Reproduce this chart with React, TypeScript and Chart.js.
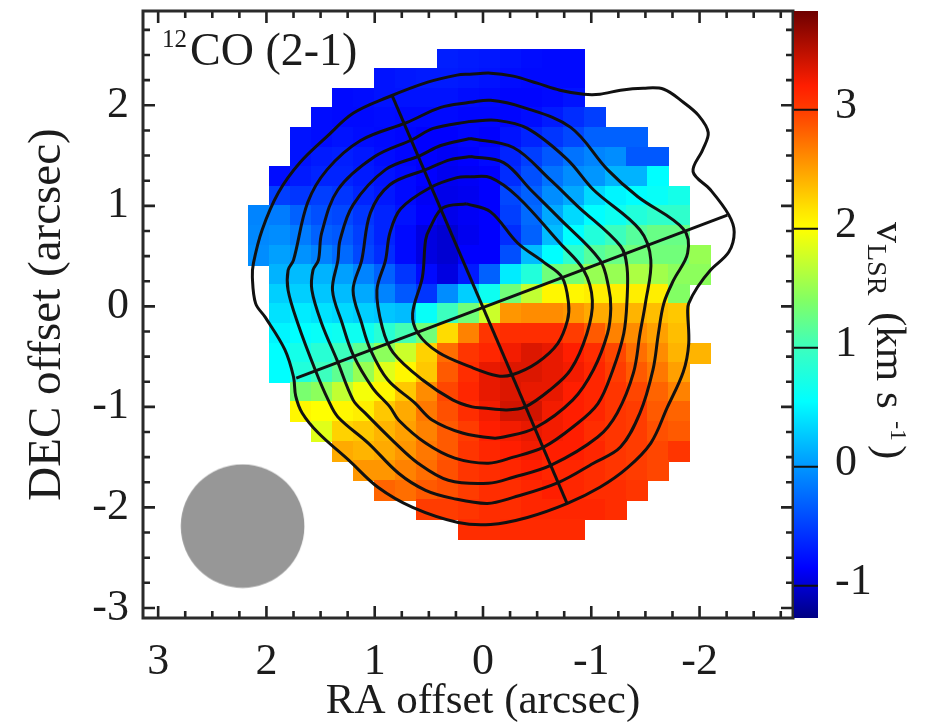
import React, { useEffect, useRef } from "react";
import { Chart, registerables } from "chart.js";

Chart.register(...registerables);

const FONT = '"Liberation Serif", serif';
const INK = "#1c1c1c";

const raCentres = [2.07, 1.875, 1.68, 1.487, 1.293, 1.099, 0.905, 0.711, 0.517, 0.323, 0.129, -0.065, -0.259, -0.453, -0.647, -0.841, -1.035, -1.229, -1.423, -1.617, -1.811, -2.005];
const decCentres = [2.46, 2.265, 2.07, 1.875, 1.68, 1.485, 1.29, 1.095, 0.9, 0.705, 0.51, 0.315, 0.12, -0.075, -0.27, -0.465, -0.66, -0.855, -1.05, -1.245, -1.44, -1.635, -1.83, -2.025, -2.22];
const rowStart = [9, 6, 4, 3, 2, 2, 1, 1, 0, 0, 0, 1, 1, 1, 1, 1, 1, 2, 2, 3, 4, 5, 6, 8, 10];

const velocityRows = [
  [-0.68, -0.7, -0.72, -0.75, -0.78, -0.8, -0.8],
  [-0.75, -0.72, -0.7, -0.7, -0.72, -0.75, -0.78, -0.8, -0.8, -0.8],
  [-0.8, -0.78, -0.75, -0.75, -0.75, -0.75, -0.78, -0.8, -0.82, -0.82, -0.8, -0.75],
  [-0.78, -0.8, -0.8, -0.78, -0.8, -0.8, -0.8, -0.82, -0.82, -0.82, -0.78, -0.7, -0.6, -0.5],
  [-0.75, -0.78, -0.75, -0.78, -0.8, -0.82, -0.85, -0.85, -0.82, -0.85, -0.75, -0.65, -0.55, -0.45, -0.3, -0.3, -0.3],
  [-0.75, -0.7, -0.68, -0.72, -0.78, -0.82, -0.85, -0.88, -0.85, -0.8, -0.65, -0.5, -0.35, -0.2, -0.1, -0.05, -0.35, -0.35],
  [-0.78, -0.7, -0.65, -0.65, -0.7, -0.75, -0.8, -0.85, -0.9, -0.88, -0.85, -0.6, -0.4, -0.2, -0.05, 0, 0.15, 0.15, 0.55],
  [-0.5, -0.55, -0.5, -0.55, -0.65, -0.72, -0.8, -0.88, -0.92, -0.9, -0.85, -0.45, -0.3, -0.05, 0.1, 0.35, 0.5, 0.55, 0.6, 0.7],
  [-0.1, -0.15, -0.3, -0.4, -0.45, -0.55, -0.65, -0.75, -0.85, -0.92, -0.88, -0.85, -0.5, -0.25, 0.1, 0.35, 0.55, 0.65, 0.8, 0.9, 0.9],
  [-0.08, -0.05, -0.15, -0.3, -0.35, -0.5, -0.65, -0.8, -0.95, -1.0, -0.9, -0.85, -0.6, -0.3, 0.2, 0.55, 0.8, 1.0, 1.15, 1.25, 1.25],
  [-0.05, 0.05, -0.02, -0.12, -0.25, -0.45, -0.6, -0.8, -0.95, -1.0, -0.85, -0.85, -0.4, 0.2, 0.55, 0.9, 1.15, 1.25, 1.3, 1.3, 1.3, 1.5],
  [0.15, 0.2, 0.15, 0.05, -0.1, -0.3, -0.55, -0.8, -0.95, -0.7, -0.3, 0.45, 0.8, 1.3, 1.35, 1.5, 1.5, 1.6, 1.55, 1.45, 1.45],
  [0.3, 0.3, 0.25, 0.2, 0.1, -0.1, -0.35, -0.55, -0.05, 0.3, 0.65, 1.3, 1.7, 2.05, 2.05, 2.1, 2.1, 2.1, 2.1, 1.4],
  [0.4, 0.45, 0.4, 0.35, 0.3, 0.25, 0.2, 0.6, 1.0, 1.3, 1.75, 2.55, 2.6, 2.6, 2.55, 2.45, 2.45, 2.4, 2.35, 2.3],
  [0.5, 0.55, 0.6, 0.65, 0.65, 0.85, 1.05, 1.3, 2.2, 2.65, 3.05, 3.1, 3.1, 3.1, 3.0, 2.85, 2.65, 2.6, 2.5, 2.35],
  [0.55, 0.7, 0.85, 1.0, 1.2, 1.45, 1.75, 2.25, 2.75, 3.05, 3.15, 3.25, 3.35, 3.3, 3.2, 3.1, 2.95, 2.75, 2.6, 2.4, 2.4],
  [0.55, 0.8, 1.0, 1.2, 1.5, 1.85, 2.05, 2.3, 2.85, 3.1, 3.3, 3.35, 3.35, 3.3, 3.25, 3.15, 3.0, 2.85, 2.7, 2.5],
  [1.35, 1.45, 1.7, 1.95, 2.05, 2.3, 2.6, 2.95, 3.15, 3.3, 3.35, 3.3, 3.3, 3.2, 3.15, 3.05, 2.95, 2.8, 2.65],
  [2.05, 2.0, 2.05, 2.1, 2.3, 2.45, 2.7, 2.9, 3.1, 3.25, 3.4, 3.4, 3.25, 3.2, 3.15, 3.05, 3.0, 2.85, 2.8],
  [1.85, 2.25, 2.3, 2.4, 2.5, 2.65, 2.85, 3.0, 3.2, 3.25, 3.3, 3.25, 3.2, 3.1, 3.05, 3.0, 2.9, 2.85],
  [2.45, 2.4, 2.45, 2.55, 2.7, 2.85, 3.05, 3.15, 3.2, 3.25, 3.2, 3.2, 3.15, 3.05, 3.0, 2.95, 3.05],
  [2.55, 2.55, 2.65, 2.75, 2.9, 3.05, 3.1, 3.15, 3.2, 3.15, 3.15, 3.1, 3.05, 3.0, 2.95],
  [2.8, 2.75, 2.85, 2.9, 3.0, 3.1, 3.1, 3.15, 3.2, 3.15, 3.1, 3.1, 3.05],
  [3.0, 3.0, 3.05, 3.1, 3.1, 3.15, 3.15, 3.15, 3.15, 3.1],
  [3.1, 3.1, 3.12, 3.12, 3.12, 3.12],
];

const contour1 = [[0.12, 2.31], [-0.07, 2.32], [-0.28, 2.29], [-0.5, 2.22], [-0.71, 2.15], [-0.93, 2.11], [-1.08, 2.11], [-1.27, 2.15], [-1.48, 2.17], [-1.67, 2.16], [-1.85, 2.03], [-1.99, 1.9], [-2.08, 1.73], [-2.03, 1.56], [-1.94, 1.34], [-2.1, 1.16], [-2.27, 0.91], [-2.32, 0.74], [-2.27, 0.54], [-2.1, 0.36], [-1.98, 0.19], [-1.9, 0.03], [-1.89, -0.04], [-1.9, -0.37], [-1.85, -0.65], [-1.7, -1.01], [-1.55, -1.36], [-1.33, -1.61], [-1.08, -1.8], [-0.78, -1.96], [-0.41, -2.1], [-0.07, -2.17], [0.23, -2.15], [0.65, -2.0], [0.97, -1.8], [1.24, -1.53], [1.52, -1.26], [1.67, -1.06], [1.73, -0.89], [1.75, -0.7], [1.83, -0.43], [2.01, -0.11], [2.1, 0.03], [2.13, 0.29], [2.12, 0.43], [2.04, 0.76], [1.89, 1.13], [1.69, 1.43], [1.44, 1.69], [1.2, 1.92], [0.88, 2.08], [0.51, 2.23], [0.24, 2.3]];
const contour2 = [[0.12, 2.03], [-0.07, 2.05], [-0.37, 1.98], [-0.81, 1.78], [-1.15, 1.36], [-1.43, 1.09], [-1.85, 0.77], [-1.89, 0.53], [-1.76, 0.26], [-1.67, 0.03], [-1.62, -0.27], [-1.57, -0.63], [-1.45, -1.06], [-1.27, -1.4], [-1.02, -1.56], [-0.7, -1.75], [-0.28, -1.9], [-0.04, -1.96], [0.28, -1.91], [0.53, -1.83], [0.78, -1.66], [1.06, -1.36], [1.34, -1.1], [1.43, -0.93], [1.55, -0.63], [1.71, -0.17], [1.8, 0.16], [1.8, 0.36], [1.75, 0.46], [1.62, 1.03], [1.44, 1.36], [1.13, 1.65], [0.7, 1.83], [0.39, 1.98]];
const contour3 = [[0.12, 1.84], [-0.13, 1.85], [-0.41, 1.77], [-0.78, 1.46], [-1.02, 1.16], [-1.45, 0.76], [-1.55, 0.46], [-1.5, 0.03], [-1.45, -0.27], [-1.39, -0.66], [-1.24, -1.06], [-1.06, -1.3], [-0.63, -1.58], [-0.28, -1.7], [-0.05, -1.76], [0.32, -1.73], [0.6, -1.56], [0.81, -1.36], [1.09, -1.06], [1.2, -0.93], [1.35, -0.53], [1.49, -0.17], [1.58, 0.16], [1.57, 0.36], [1.52, 0.46], [1.49, 0.73], [1.34, 1.16], [1.0, 1.49], [0.65, 1.66], [0.46, 1.77]];
const contour4 = [[0.12, 1.67], [-0.28, 1.58], [-0.62, 1.26], [-0.87, 1.0], [-1.27, 0.6], [-1.33, 0.39], [-1.33, 0.06], [-1.3, -0.27], [-1.2, -0.63], [-1.06, -0.97], [-0.83, -1.2], [-0.56, -1.4], [-0.28, -1.5], [-0.05, -1.56], [0.26, -1.51], [0.53, -1.36], [0.78, -1.13], [0.86, -1.0], [1.02, -0.81], [1.2, -0.48], [1.3, -0.17], [1.39, 0.16], [1.34, 0.46], [1.32, 0.66], [1.2, 1.01], [0.9, 1.36], [0.58, 1.5], [0.39, 1.6]];
const contour5 = [[0.12, 1.49], [-0.19, 1.43], [-0.44, 1.16], [-0.71, 0.87], [-1.08, 0.46], [-1.16, 0.19], [-1.18, -0.02], [-1.15, -0.27], [-1.02, -0.63], [-0.83, -0.93], [-0.48, -1.21], [-0.19, -1.3], [-0.09, -1.31], [0.19, -1.26], [0.47, -1.13], [0.63, -0.96], [0.88, -0.73], [1.04, -0.43], [1.12, -0.17], [1.2, 0.16], [1.12, 0.46], [1.04, 0.93], [0.86, 1.21], [0.53, 1.36], [0.3, 1.46]];
const contour6 = [[0.12, 1.29], [-0.07, 1.28], [-0.32, 1.09], [-0.71, 0.63], [-0.93, 0.36], [-1.01, 0.06], [-0.96, -0.27], [-0.81, -0.63], [-0.62, -0.83], [-0.39, -1.0], [-0.22, -1.03], [0.0, -1.01], [0.1, -1.0], [0.28, -0.93], [0.56, -0.73], [0.83, -0.46], [0.93, -0.21], [0.98, 0.16], [0.9, 0.46], [0.86, 0.73], [0.76, 0.97], [0.49, 1.18], [0.24, 1.28]];
const contour7 = [[0.15, 1.02], [-0.07, 0.94], [-0.32, 0.63], [-0.56, 0.44], [-0.73, 0.29], [-0.79, 0.03], [-0.78, -0.14], [-0.69, -0.37], [-0.5, -0.56], [-0.27, -0.68], [-0.13, -0.69], [0.12, -0.6], [0.41, -0.46], [0.6, -0.27], [0.65, -0.07], [0.56, 0.29], [0.53, 0.66], [0.49, 0.78], [0.37, 0.98]];
const contours = [contour1, contour2, contour3, contour4, contour5, contour6, contour7];

const majorAxis = [[1.725, -0.713], [-2.257, 0.908]];
const minorAxis = [[0.838, 2.093], [-0.779, -1.967]];
const beamCentre = [{ x: 2.22, y: -2.186 }];

const xTicks = [3, 2.75, 2.5, 2.25, 2, 1.75, 1.5, 1.25, 1, 0.75, 0.5, 0.25, 0, -0.25, -0.5, -0.75, -1, -1.25, -1.5, -1.75, -2, -2.25, -2.5, -2.75];
const yTicks = [2.75, 2.5, 2.25, 2, 1.75, 1.5, 1.25, 1, 0.75, 0.5, 0.25, 0, -0.25, -0.5, -0.75, -1, -1.25, -1.5, -1.75, -2, -2.25, -2.5, -2.75, -3];
const barTicks = [-1, 0, 1, 2, 3];

const colourValues = [-1.27, -0.85, 0, 0.55, 1.0, 1.4, 2.0, 2.15, 2.6, 3.0, 3.2, 3.83];
const colourStops = [[0, 0, 130], [0, 0, 255], [0, 150, 255], [0, 255, 255], [60, 255, 190], [130, 255, 100], [255, 255, 0], [255, 230, 0], [255, 140, 0], [255, 60, 0], [255, 30, 0], [110, 0, 0]];

function colourFor(v: number): string {
  let i = 0;
  while (i < colourValues.length - 2 && v > colourValues[i + 1]) i++;
  const t = Math.max(0, Math.min(1, (v - colourValues[i]) / (colourValues[i + 1] - colourValues[i])));
  const a = colourStops[i];
  const b = colourStops[i + 1];
  return `rgb(${a.map((c, k) => Math.round(c + (b[k] - c) * t)).join(",")})`;
}

const swatches = new Map<string, HTMLCanvasElement>();
function cellSwatch(colour: string): HTMLCanvasElement {
  let c = swatches.get(colour);
  if (!c) {
    c = document.createElement("canvas");
    c.width = 22;
    c.height = 21;
    const g = c.getContext("2d")!;
    g.fillStyle = colour;
    g.fillRect(0, 0, 22, 21);
    swatches.set(colour, c);
  }
  return c;
}

let beamImage: HTMLCanvasElement | null = null;
function beamSwatch(): HTMLCanvasElement {
  if (!beamImage) {
    beamImage = document.createElement("canvas");
    beamImage.width = 125;
    beamImage.height = 125;
    const g = beamImage.getContext("2d")!;
    g.fillStyle = "#979797";
    g.beginPath();
    g.arc(62.5, 62.5, 61.8, 0, Math.PI * 2);
    g.fill();
  }
  return beamImage;
}

const cells = velocityRows.flatMap((row, r) =>
  row.map((v, i) => ({ x: raCentres[rowStart[r] + i], y: decCentres[r], v }))
);

const toPoints = (pairs: number[][]) => pairs.map(([x, y]) => ({ x, y }));
const lineSet = (pairs: number[][], closed: boolean) => ({
  data: toPoints(closed ? [...pairs, pairs[0]] : pairs),
  showLine: true,
  borderColor: "#111111",
  borderWidth: 3,
  pointRadius: 0,
  tension: closed ? 0.35 : 0,
  order: 1,
});

const framePlugin = {
  id: "frame",
  afterDatasetsDraw(chart: any) {
    const { ctx, chartArea: a, scales } = chart;
    ctx.save();
    ctx.strokeStyle = "#222";
    ctx.lineWidth = 2.6;
    ctx.beginPath();
    for (const t of scales.x.ticks) {
      const p = scales.x.getPixelForValue(t.value);
      const L = Number.isInteger(t.value) ? 12 : 7;
      ctx.moveTo(p, a.bottom);
      ctx.lineTo(p, a.bottom - L);
      ctx.moveTo(p, a.top);
      ctx.lineTo(p, a.top + L);
    }
    for (const t of scales.y.ticks) {
      const p = scales.y.getPixelForValue(t.value);
      const L = Number.isInteger(t.value) ? 12 : 7;
      ctx.moveTo(a.left, p);
      ctx.lineTo(a.left + L, p);
      ctx.moveTo(a.right, p);
      ctx.lineTo(a.right - L, p);
    }
    ctx.stroke();
    ctx.lineWidth = 3;
    ctx.strokeStyle = "#2a2a2a";
    ctx.strokeRect(a.left, a.top, a.right - a.left, a.bottom - a.top);
    ctx.restore();
  },
  afterDraw(chart: any) {
    const { ctx, chartArea: a, scales } = chart;
    const bar = scales.cbar;
    const left = a.right + 1;
    const width = 24;
    ctx.save();
    const grad = ctx.createLinearGradient(0, bar.getPixelForValue(bar.min), 0, bar.getPixelForValue(bar.max));
    colourValues.forEach((v, i) => {
      grad.addColorStop((v - bar.min) / (bar.max - bar.min), `rgb(${colourStops[i].join(",")})`);
    });
    ctx.fillStyle = grad;
    ctx.fillRect(left, a.top, width, a.bottom - a.top);
    ctx.strokeStyle = "#111";
    ctx.lineWidth = 2;
    ctx.beginPath();
    for (const t of bar.ticks) {
      const p = bar.getPixelForValue(t.value);
      ctx.moveTo(left, p);
      ctx.lineTo(left + width, p);
    }
    ctx.stroke();

    ctx.fillStyle = INK;
    ctx.textBaseline = "alphabetic";
    ctx.textAlign = "center";
    ctx.font = `43px ${FONT}`;
    ctx.fillText("RA offset (arcsec)", scales.x.getPixelForValue(0), 713);

    ctx.textAlign = "left";
    ctx.font = `25px ${FONT}`;
    ctx.fillText("12", 162, 47);
    ctx.font = `46px ${FONT}`;
    ctx.fillText("CO (2-1)", 190, 65);

    ctx.translate(877, 0);
    ctx.rotate(Math.PI / 2);
    ctx.font = `42px ${FONT}`;
    ctx.fillText("v", 222, 0);
    ctx.font = `28px ${FONT}`;
    ctx.fillText("LSR", 244, 9);
    ctx.font = `43px ${FONT}`;
    ctx.fillText("(km s", 312, 0);
    ctx.font = `24px ${FONT}`;
    ctx.fillText("-1", 421, -14);
    ctx.font = `43px ${FONT}`;
    ctx.fillText(")", 445, 0);
    ctx.restore();
  },
};

const tickFont = { family: FONT, size: 44 };
const integerLabel = (v: any) => (Number.isInteger(Number(v)) ? String(v) : "");
const clearPadding = (s: any) => {
  s.paddingTop = 0;
  s.paddingBottom = 0;
  s.paddingLeft = 0;
  s.paddingRight = 0;
};

export default function App() {
  const ref = useRef<HTMLCanvasElement>(null);
  useEffect(() => {
    const chart = new Chart(ref.current!, {
      type: "scatter",
      data: {
        datasets: [
          ...contours.map((c) => lineSet(c, true)),
          lineSet(majorAxis, false),
          lineSet(minorAxis, false),
          {
            data: beamCentre,
            pointRadius: 1,
            pointStyle: () => beamSwatch(),
            order: 5,
          },
          {
            data: cells,
            pointRadius: 1,
            pointStyle: (ctx: any) => cellSwatch(colourFor(ctx.raw ? ctx.raw.v : 0)),
            order: 10,
          },
        ] as any,
      },
      options: {
        responsive: false,
        animation: false,
        events: [],
        layout: { padding: { top: 11 } },
        plugins: { legend: { display: false }, tooltip: { enabled: false }, title: { display: false } },
        scales: {
          x: {
            type: "linear",
            position: "bottom",
            reverse: true,
            min: -2.863,
            max: 3.14,
            afterBuildTicks: (s: any) => { s.ticks = xTicks.map((value) => ({ value })); },
            afterFit: (s: any) => { s.height = 107; clearPadding(s); },
            grid: { display: false },
            border: { display: false },
            ticks: { autoSkip: false, maxRotation: 0, padding: 10, color: INK, font: tickFont, callback: integerLabel },
          },
          y: {
            type: "linear",
            position: "left",
            min: -3.1,
            max: 2.938,
            afterBuildTicks: (s: any) => { s.ticks = yTicks.map((value) => ({ value })); },
            afterFit: (s: any) => { s.width = 143; clearPadding(s); },
            grid: { display: false },
            border: { display: false },
            title: { display: true, text: "DEC offset (arcsec)", color: INK, font: { family: FONT, size: 47 }, padding: { top: 19, bottom: 0 } },
            ticks: { autoSkip: false, padding: 6, color: INK, font: tickFont, callback: integerLabel },
          },
          cbar: {
            type: "linear",
            axis: "y",
            position: "right",
            min: -1.27,
            max: 3.83,
            afterBuildTicks: (s: any) => { s.ticks = barTicks.map((value) => ({ value })); },
            afterFit: (s: any) => { s.width = 137; clearPadding(s); },
            grid: { display: false },
            border: { display: false },
            ticks: { autoSkip: false, padding: 34, labelOffset: -3, color: INK, font: tickFont, callback: integerLabel },
          },
        },
      } as any,
      plugins: [framePlugin],
    });
    return () => chart.destroy();
  }, []);
  return (
    <div style={{ position: "absolute", left: 0, top: 0, width: 930, height: 725 }}>
      <canvas ref={ref} width={930} height={725} style={{ display: "block", filter: "blur(0.7px)" }} />
    </div>
  );
}
